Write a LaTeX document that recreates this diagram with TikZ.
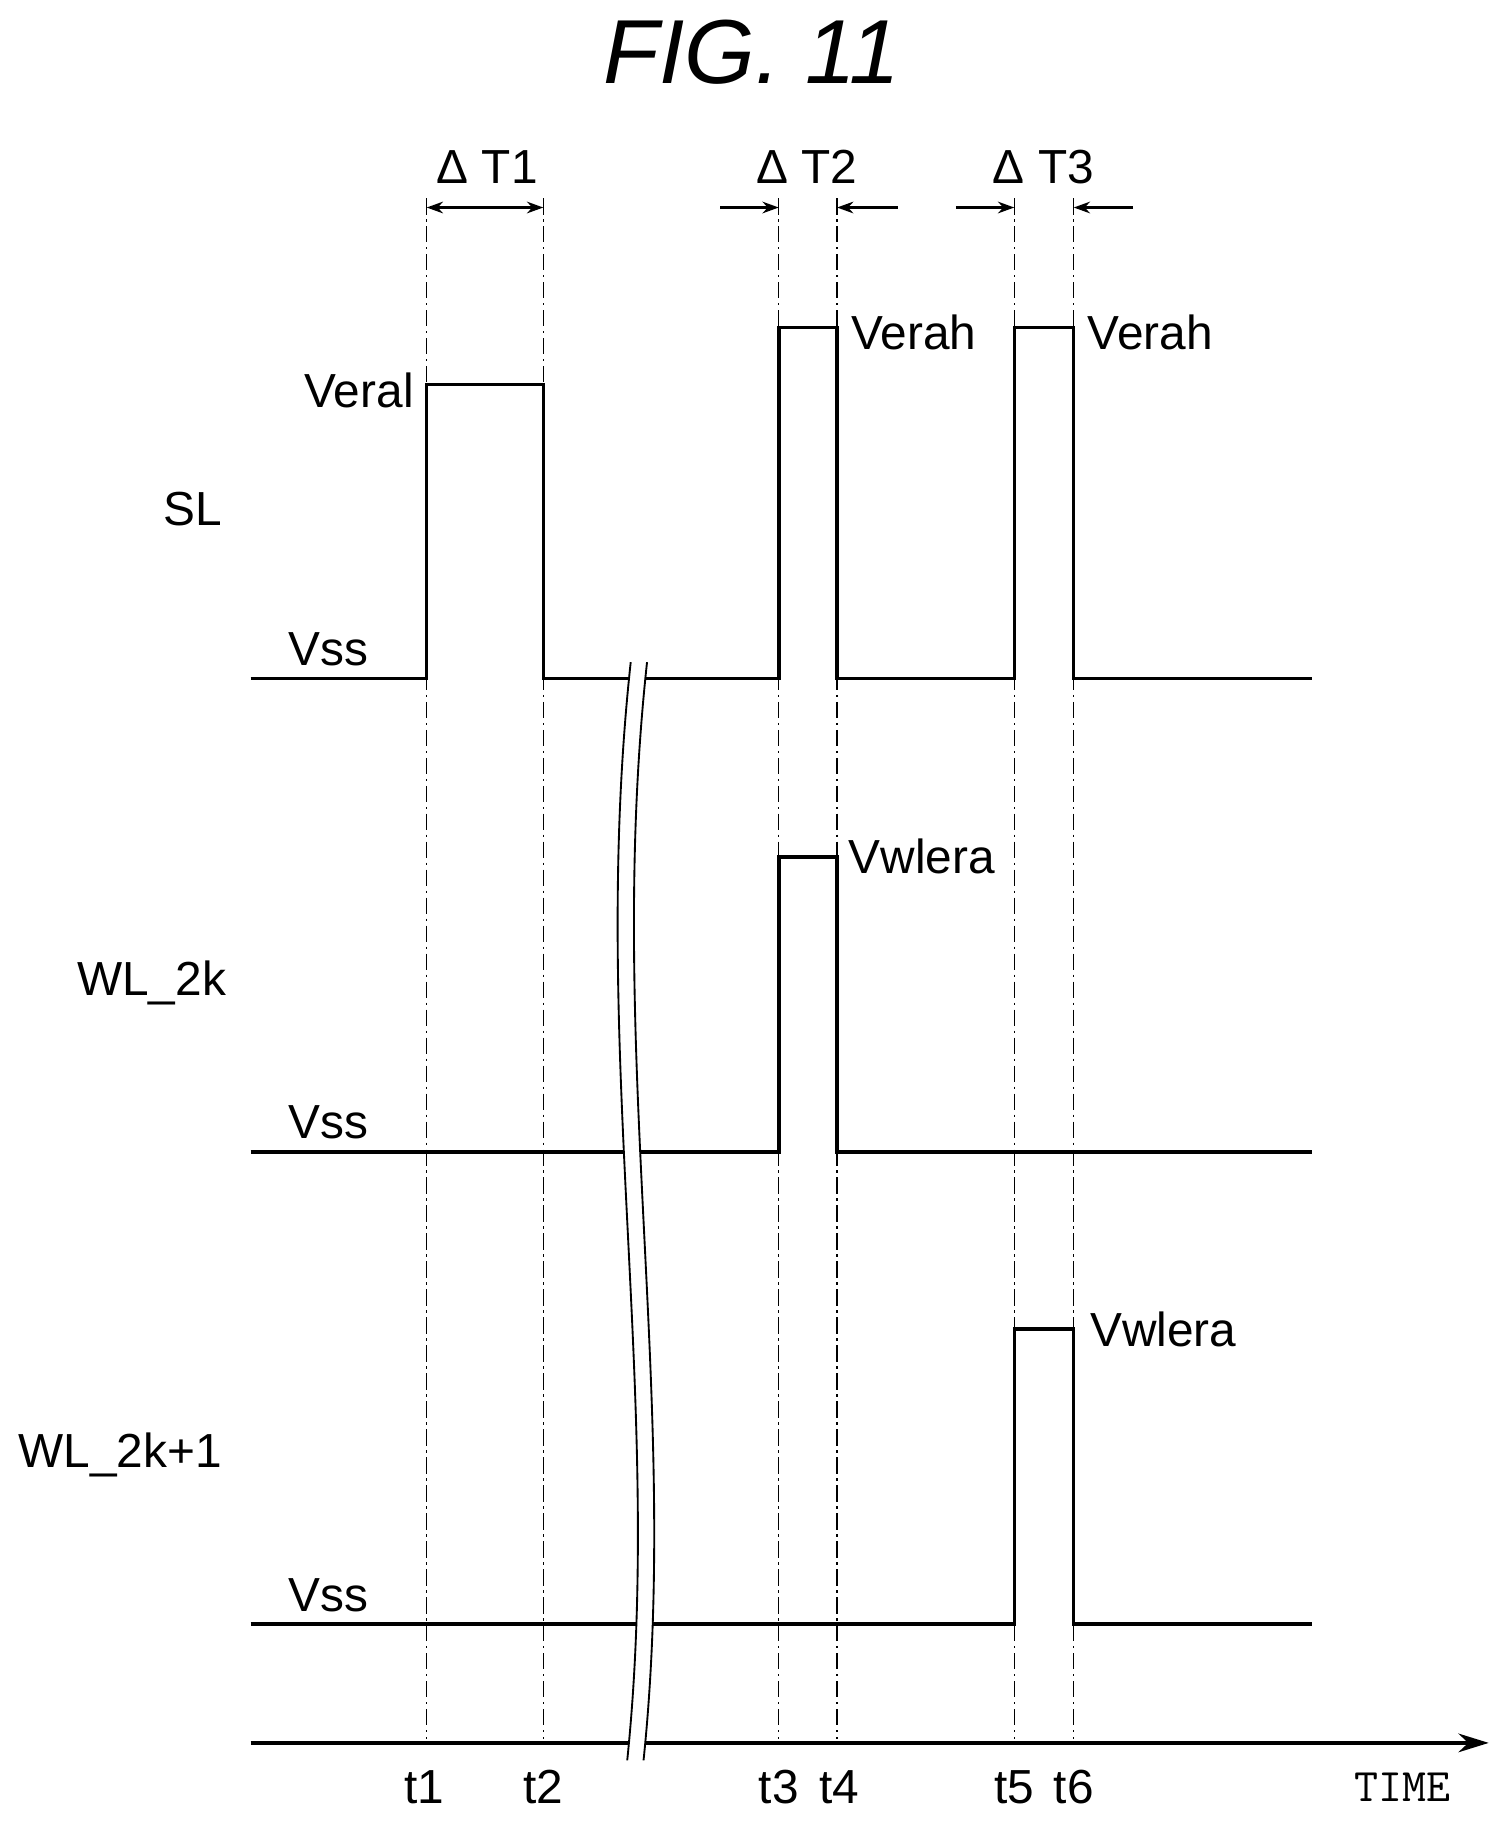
\documentclass[tikz,border=0pt]{standalone}
\usepackage{fontspec}
\setmainfont{Liberation Sans}
\usetikzlibrary{arrows.meta}
\begin{document}
\begin{tikzpicture}[x=1pt,y=-1pt,
  sig/.style={line width=3pt},
  guide/.style={line width=1.2pt,dash pattern=on 14pt off 4pt on 2pt off 4pt},
  lab/.style={font=\fontsize{41}{41}\selectfont,inner sep=0pt},
  arr/.style={line width=2pt,-{Stealth[length=14pt,width=10pt]}}]
\useasboundingbox (0,0) rectangle (1292,1568);
\node[font=\fontsize{78}{78}\selectfont\itshape] (title) at (645,45) {FIG. 11};
% guides
\foreach \x/\n in {366/1,466/2,668/3,718/4,870/5,921/6}{
  \draw[guide] (\x,170) -- (\x,1492);
}
% SL
\draw[sig] (215,582) -- (366,582) -- (366,330) -- (466,330) -- (466,582) -- (668,582) -- (668,281) -- (718,281) -- (718,582) -- (870,582) -- (870,281) -- (921,281) -- (921,582) -- (1125,582);
% WL_2k
\draw[sig] (215,988) -- (668,988) -- (668,735) -- (718,735) -- (718,988) -- (1125,988);
% WL_2k+1
\draw[sig] (215,1393) -- (870,1393) -- (870,1140) -- (921,1140) -- (921,1393) -- (1125,1393);
% time axis
\coordinate (ax0) at (215,1495);
\coordinate (ax1) at (1277,1495);
\draw[sig,-{Stealth[length=26pt,width=16pt]}] (ax0) -- (ax1);
% break
\fill[white] (541,568) .. controls (505,900) and (570,1200) .. (538,1510) -- (552,1510) .. controls (584,1200) and (519,900) .. (555,568) -- cycle;
\draw[line width=1.6pt] (541,568) .. controls (505,900) and (570,1200) .. (538,1510);
\draw[line width=1.6pt] (555,568) .. controls (519,900) and (584,1200) .. (552,1510);
% delta arrows
\coordinate (a1) at (366,178); \coordinate (a2) at (466,178);
\draw[line width=2pt,{Stealth[length=14pt,width=10pt]}-{Stealth[length=14pt,width=10pt]}] (a1) -- (a2);
\coordinate (b0) at (618,178); \coordinate (b1) at (668,178);
\coordinate (b2) at (718,178); \coordinate (b3) at (770,178);
\draw[arr] (b0) -- (b1); \draw[arr] (b3) -- (b2);
\coordinate (c0) at (820,178); \coordinate (c1) at (870,178);
\coordinate (c2) at (921,178); \coordinate (c3) at (972,178);
\draw[arr] (c0) -- (c1); \draw[arr] (c3) -- (c2);
\node[lab] (d1) at (418,143) {Δ T1};
\node[lab] (d2) at (692,143) {Δ T2};
\node[lab] (d3) at (895,143) {Δ T3};
% labels
\node[lab,anchor=east] (veral) at (355,335) {Veral};
\node[lab,anchor=west] (vh1) at (730,285) {Verah};
\node[lab,anchor=west] (vh2) at (933,285) {Verah};
\node[lab,anchor=west] (vw1) at (728,735) {Vwlera};
\node[lab,anchor=west] (vw2) at (935,1140) {Vwlera};
\node[lab] (vss1) at (282,557) {Vss};
\node[lab] (vss2) at (282,963) {Vss};
\node[lab] (vss3) at (282,1368) {Vss};
\node[lab] (sl) at (165,437) {SL};
\node[lab] (wl1) at (130,843) {WL\_2k};
\node[lab] (wl2) at (103,1248) {WL\_2k+1};
\foreach \x/\n in {364/1,466/2,668/3,720/4,870/5,921/6}{
  \node[lab] (t\n) at (\x,1533) {t\n};
}
\node[lab,font=\fontsize{40}{40}\selectfont\ttfamily] (time) at (1203,1533) {TIME};
\end{tikzpicture}
\end{document}
